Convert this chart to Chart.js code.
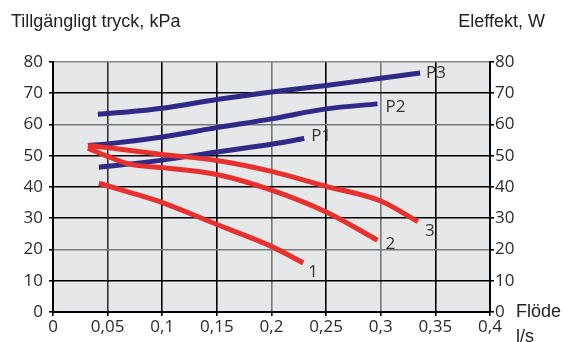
<!DOCTYPE html>
<html>
<head>
<meta charset="utf-8">
<script src="https://cdn.jsdelivr.net/npm/chart.js@4/dist/chart.umd.min.js"></script>
<style>
  body { margin: 0; background: #fff; }
  #wrap { position: relative; width: 564px; height: 342px; overflow: hidden; }
  .lbl { position: absolute; font-family: "Liberation Sans", Arial, sans-serif; font-size: 18px; color: #222; white-space: nowrap; }
</style>
</head>
<body>
<div id="wrap">
  <canvas id="c" width="564" height="342"></canvas>
  <div class="lbl" style="left:11px; top:11px;">Tillgängligt tryck, kPa</div>
  <div class="lbl" style="right:19px; top:11px;">Eleffekt, W</div>
  <div class="lbl" style="left:516px; top:301px;">Flöde</div>
  <div class="lbl" style="left:516px; top:326px;">l/s</div>
</div>
<script>
// ========================
// DATA
// ========================

// Pressure curves (kPa), left axis
const curve1Flow = [0.042, 0.07, 0.1, 0.15, 0.2, 0.229];
const curve1Kpa  = [41.2, 38.3, 35, 28, 21, 15.7];

const curve2Flow = [0.032, 0.05, 0.07, 0.1, 0.15, 0.2, 0.25, 0.297];
const curve2Kpa  = [52.4, 49.8, 47.3, 46.2, 44, 39, 32, 23];

const curve3Flow = [0.032, 0.05, 0.1, 0.15, 0.2, 0.25, 0.3, 0.334];
const curve3Kpa  = [53.3, 52.6, 50.4, 48.5, 45, 40.2, 35.5, 28.9];

// Power curves (W), right axis
const p1Flow  = [0.042, 0.1, 0.15, 0.2, 0.23];
const p1Watt  = [46.3, 48.6, 51.2, 53.7, 55.5];

const p2Flow  = [0.032, 0.05, 0.1, 0.15, 0.2, 0.25, 0.297];
const p2Watt  = [53.3, 53.8, 56, 59, 61.8, 65, 66.6];

const p3Flow  = [0.041, 0.05, 0.1, 0.15, 0.2, 0.25, 0.3, 0.336];
const p3Watt  = [63.3, 63.5, 65.2, 68, 70.4, 72.5, 74.8, 76.5];

const curveNames = ["1", "2", "3", "P1", "P2", "P3"];

// ========================
// STYLE
// ========================

const RED = '#e8302e';
const BLUE = '#2f2a87';
const TEXT = '#2b2b2b';
const tickFont = { family: '"Open Sans", sans-serif', size: 17 };

// label offset from the last point of each curve, px
const labelOffsets = {
  "1": [5, 9], "2": [8, 4], "3": [7, 9],
  "P1": [7, -2], "P2": [8, 3], "P3": [6, 0]
};

// some grid lines look lighter in the reference
const xGridColors = ['#000', '#333', '#000', '#000', '#777', '#000', '#777', '#000', '#000'];
const yGridColors = ['#000', '#000', '#777', '#000', '#000', '#000', '#777', '#000', '#888'];

function toPoints(xs, ys) {
  return xs.map((x, i) => ({ x, y: ys[i] }));
}

function line(name, xs, ys, color, axis) {
  return {
    label: name,
    data: toPoints(xs, ys),
    borderColor: color,
    backgroundColor: color,
    borderWidth: 5,
    pointRadius: 0,
    tension: 0.4,
    cubicInterpolationMode: 'monotone',
    yAxisID: axis
  };
}

// grey plot background
const plotBg = {
  id: 'plotBg',
  beforeDraw(chart) {
    const { ctx, chartArea: a } = chart;
    ctx.save();
    ctx.fillStyle = '#e6e7e8';
    ctx.fillRect(a.left, a.top, a.right - a.left, a.bottom - a.top);
    ctx.restore();
  }
};

// curve names next to their end points
const endLabels = {
  id: 'endLabels',
  afterDatasetsDraw(chart) {
    const ctx = chart.ctx;
    ctx.save();
    ctx.font = '17px "Open Sans", sans-serif';
    ctx.fillStyle = '#333';
    ctx.textBaseline = 'middle';
    chart.data.datasets.forEach((ds, i) => {
      const pts = chart.getDatasetMeta(i).data;
      const last = pts[pts.length - 1];
      const off = labelOffsets[ds.label];
      ctx.fillText(ds.label, last.x + off[0], last.y + off[1]);
    });
    ctx.restore();
  }
};

const fmt = v => (Math.round(v * 100) / 100).toString().replace('.', ',');

new Chart(document.getElementById('c'), {
  type: 'line',
  data: {
    datasets: [
      line(curveNames[0], curve1Flow, curve1Kpa, RED, 'y'),
      line(curveNames[1], curve2Flow, curve2Kpa, RED, 'y'),
      line(curveNames[2], curve3Flow, curve3Kpa, RED, 'y'),
      line(curveNames[3], p1Flow, p1Watt, BLUE, 'y2'),
      line(curveNames[4], p2Flow, p2Watt, BLUE, 'y2'),
      line(curveNames[5], p3Flow, p3Watt, BLUE, 'y2')
    ]
  },
  options: {
    responsive: false,
    animation: false,
    devicePixelRatio: 1,
    layout: { padding: { top: 62, left: 0, right: 0, bottom: 0 } },
    plugins: { legend: { display: false }, tooltip: { enabled: false } },
    scales: {
      x: {
        type: 'linear',
        min: 0, max: 0.4,
        afterFit: s => { s.height = 30; },
        ticks: { stepSize: 0.05, font: tickFont, color: TEXT, padding: 1, callback: fmt, maxRotation: 0 },
        grid: {
          color: ctx => xGridColors[ctx.index] || '#000',
          lineWidth: 1.6,
          tickLength: 4,
          tickColor: '#000'
        },
        border: { color: '#000', width: 2 }
      },
      y: {
        position: 'left',
        min: 0, max: 80,
        afterFit: s => { s.width = 53; },
        ticks: { stepSize: 10, font: tickFont, color: TEXT, padding: 6 },
        grid: {
          color: ctx => yGridColors[ctx.index] || '#000',
          lineWidth: 1.6,
          tickLength: 4,
          tickColor: '#000'
        },
        border: { color: '#000', width: 2 }
      },
      y2: {
        position: 'right',
        min: 0, max: 80,
        afterFit: s => { s.width = 74; },
        ticks: { stepSize: 10, font: tickFont, color: TEXT, padding: 1 },
        grid: { drawOnChartArea: false, tickLength: 4, tickColor: '#000', lineWidth: 1.6 },
        border: { color: '#000', width: 2 }
      }
    }
  },
  plugins: [plotBg, endLabels]
});
</script>
</body>
</html>
